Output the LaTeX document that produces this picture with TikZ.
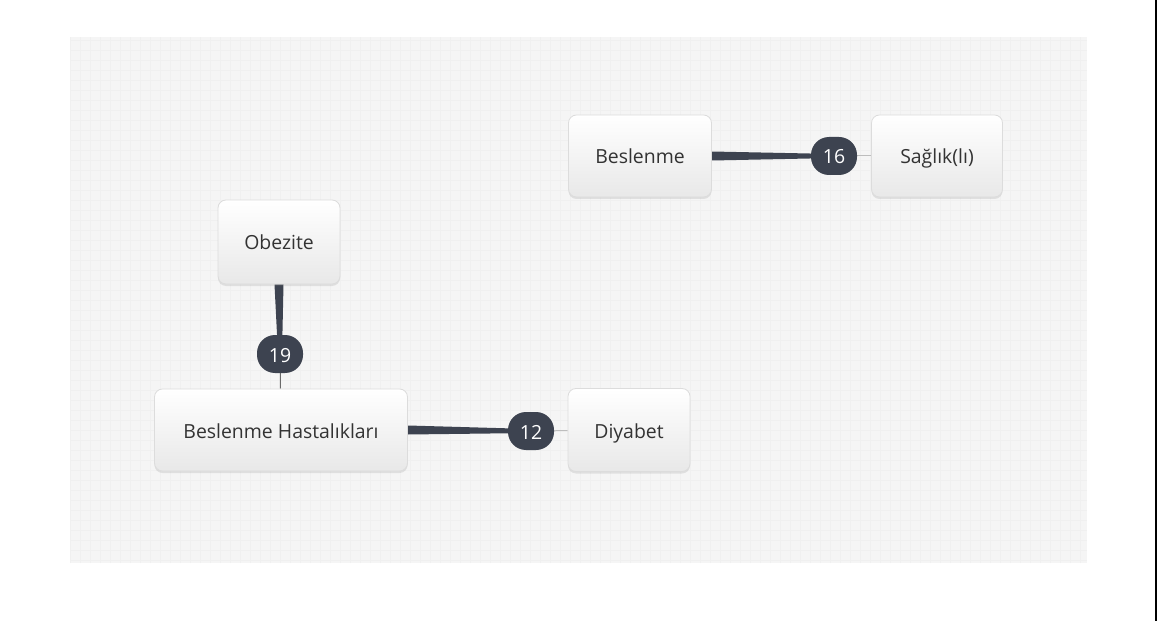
\documentclass[tikz,border=0pt]{standalone}
\usepackage{fontspec}
\setmainfont{Open Sans}
\usetikzlibrary{shadows,calc,backgrounds}
\definecolor{panel}{HTML}{F5F5F5}
\definecolor{gridc}{HTML}{F0F0F0}
\definecolor{badgec}{HTML}{3D4350}
\definecolor{bordc}{HTML}{DCDCDC}
\definecolor{txt}{HTML}{333333}
\definecolor{thinc}{HTML}{BDBDBD}
\definecolor{thind}{HTML}{6A6A6A}
\begin{document}
\begin{tikzpicture}[x=1bp,y=-1bp,
  concept/.style={rectangle, rounded corners=8bp, draw=bordc, line width=0.8bp,
    top color=white, bottom color=black!9, text=txt, inner sep=0pt,
    text height=16bp, text depth=0bp,
    minimum height=82bp, font=\fontsize{19.5}{23}\selectfont,
    drop shadow={opacity=0.18, shadow xshift=0bp, shadow yshift=-2bp}},
  countbadge/.style={rectangle, rounded corners=18bp, fill=badgec, text=white,
    minimum width=46bp, minimum height=38bp, inner sep=0pt,
    text height=16bp, text depth=0bp,
    font=\fontsize{19.5}{23}\selectfont},
  wedge/.style={fill=badgec},
  thinlink/.style={draw=thinc, line width=1bp},
  darklink/.style={draw=thind, line width=1bp}]
\useasboundingbox (0,0) rectangle (1157,621);
% nodes
\node[concept, minimum width=143bp] (bes) at (640,156) {Beslenme};
\node[concept, minimum width=131bp] (sag) at (937,156) {Sağlık(lı)};
\node[concept, minimum width=122bp, minimum height=84bp] (obe) at (279,242) {Obezite};
\node[concept, minimum width=253bp] (bh) at (281,430) {Beslenme Hastalıkları};
\node[concept, minimum width=122bp, minimum height=83bp] (diy) at (629,430) {Diyabet};
\node[countbadge] (c16) at (834,156) {16};
\node[countbadge] (c19) at (280,354) {19};
\node[countbadge] (c12) at (531,431) {12};
\begin{pgfonlayer}{background}
  \fill[white] (0,0) rectangle (1157,621);
  \fill[panel] (70,37) rectangle (1087,563);
  \draw[gridc, line width=0.5bp, step=10bp] (70,37) grid (1087,563);
  \fill[black] (1155,0) rectangle (1157,621);
  % connectors
  \fill[wedge] ($(bes.east)+(0,-4.5)$) -- ($(c16.center)+(0,-2)$) -- ($(c16.center)+(0,2)$) -- ($(bes.east)+(0,4.5)$) -- cycle;
  \draw[thinlink] (c16) -- (sag);
  \fill[wedge] ($(obe.south)+(-4.5,0)$) -- ($(c19.center)+(-2,0)$) -- ($(c19.center)+(2,0)$) -- ($(obe.south)+(4.5,0)$) -- cycle;
  \draw[darklink] (c19) -- (bh);
  \fill[wedge] ($(bh.east)+(0,-4.5)$) -- ($(c12.center)+(0,-2)$) -- ($(c12.center)+(0,2)$) -- ($(bh.east)+(0,4.5)$) -- cycle;
  \draw[thinlink] (c12) -- (diy);
\end{pgfonlayer}
\end{tikzpicture}
\end{document}
